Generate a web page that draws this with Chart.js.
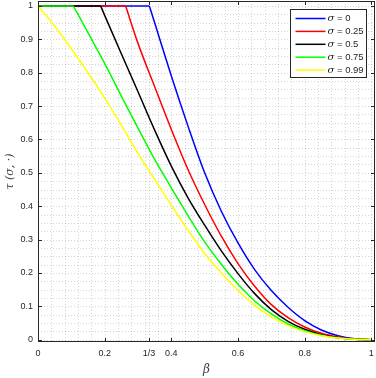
<!DOCTYPE html>
<html><head><meta charset="utf-8">
<script src="https://cdn.jsdelivr.net/npm/chart.js@4.4.0/dist/chart.umd.min.js"></script>
<style>html,body{margin:0;padding:0;background:#fff;overflow:hidden}#wrap{width:376px;height:378px}</style>
</head><body><div id="wrap"><canvas id="c" width="376" height="378"></canvas></div>
<script>
// ---- data ----
const sigmaValues = ['0', '0.25', '0.5', '0.75', '0.99'];

const betaS0 = [0, 0.334, 0.35, 0.4, 0.45, 0.5, 0.55, 0.6, 0.65, 0.7, 0.75, 0.8, 0.85, 0.9, 0.95, 1];
const tauS0  = [1, 1, 0.95, 0.79, 0.64, 0.50, 0.385, 0.29, 0.21, 0.147, 0.097, 0.057, 0.029, 0.012, 0.003, 0];

const betaS25 = [0, 0.263, 0.3, 0.35, 0.4, 0.45, 0.5, 0.55, 0.6, 0.65, 0.7, 0.75, 0.8, 0.85, 0.9, 0.95, 1];
const tauS25  = [1, 1, 0.888, 0.758, 0.63, 0.51, 0.405, 0.31, 0.228, 0.16, 0.105, 0.066, 0.038, 0.019, 0.008, 0.002, 0];

const betaS50 = [0, 0.188, 0.2, 0.25, 0.3, 0.35, 0.4, 0.45, 0.5, 0.55, 0.6, 0.65, 0.7, 0.75, 0.8, 0.85, 0.9, 0.95, 1];
const tauS50  = [1, 1, 0.972, 0.857, 0.743, 0.628, 0.52, 0.425, 0.343, 0.266, 0.198, 0.138, 0.09, 0.055, 0.031, 0.015, 0.006, 0.0015, 0];

const betaS75 = [0, 0.106, 0.15, 0.2, 0.25, 0.3, 0.35, 0.4, 0.45, 0.5, 0.55, 0.6, 0.65, 0.7, 0.75, 0.8, 0.85, 0.9, 0.95, 1];
const tauS75  = [1, 1, 0.92, 0.828, 0.73, 0.634, 0.54, 0.455, 0.372, 0.293, 0.226, 0.166, 0.116, 0.077, 0.047, 0.027, 0.013, 0.005, 0.0012, 0];

const betaS99 = [0, 0.05, 0.1, 0.15, 0.2, 0.25, 0.3, 0.35, 0.4, 0.45, 0.5, 0.55, 0.6, 0.65, 0.7, 0.75, 0.8, 0.85, 0.9, 0.95, 1];
const tauS99  = [1, 0.94, 0.872, 0.8, 0.724, 0.643, 0.558, 0.48, 0.403, 0.328, 0.258, 0.2, 0.148, 0.103, 0.068, 0.042, 0.024, 0.012, 0.005, 0.001, 0];

const xTickValues = [0, 0.2, 1/3, 0.4, 0.6, 0.8, 1];
const xTickLabels = ['0', '0.2', '1/3', '0.4', '0.6', '0.8', '1'];
const yTickValues = [0, 0.1, 0.2, 0.3, 0.4, 0.5, 0.6, 0.7, 0.8, 0.9, 1];
const yTickLabels = ['0', '0.1', '0.2', '0.3', '0.4', '0.5', '0.6', '0.7', '0.8', '0.9', '1'];
const xLimits = [0, 1.011];
const yLimits = [-0.007, 1.015];

const xTitle = 'β';
const yTitle = 'τ (σ, ·)';

// ---- styles ----
const lineColors = ['#0000ff', '#ff0000', '#000000', '#00ff00', '#ffff00'];
const AXIS = '#262626';

const seriesX = [betaS0, betaS25, betaS50, betaS75, betaS99];
const seriesY = [tauS0, tauS25, tauS50, tauS75, tauS99];

// each curve: a straight plateau part (tau = 1) and a smooth decreasing part
const datasets = [];
sigmaValues.forEach((s, i) => {
  const xs = seriesX[i], ys = seriesY[i];
  let k = 0;
  while (k + 1 < ys.length && ys[k + 1] === 1) k++;
  const common = {
    label: 'σ = ' + s,
    borderColor: lineColors[i],
    backgroundColor: lineColors[i],
    borderWidth: 1.5,
    showLine: true,
    pointRadius: 0,
    fill: false,
    order: 5 - i
  };
  if (k > 0) {
    datasets.push(Object.assign({}, common, {
      data: xs.slice(0, k + 1).map((x, j) => ({x: x, y: ys[j]})),
      tension: 0
    }));
  }
  datasets.push(Object.assign({}, common, {
    data: xs.slice(k).map((x, j) => ({x: x, y: ys[k + j]})),
    cubicInterpolationMode: 'monotone'
  }));
});

const gridPlugin = {
  id: 'matlabGrid',
  beforeDatasetsDraw(chart) {
    const {ctx, chartArea: a, scales: {x, y}} = chart;
    ctx.save();
    ctx.strokeStyle = 'rgba(0,0,0,0.17)';
    ctx.lineWidth = 1;
    ctx.setLineDash([1, 2]);
    const xs = [];
    for (let k = 1; k <= 25; k++) xs.push(k * 0.04);
    xs.push(1/3);
    xs.forEach(v => {
      const p = Math.round(x.getPixelForValue(v)) + 0.5;
      ctx.beginPath(); ctx.moveTo(p, a.top); ctx.lineTo(p, a.bottom); ctx.stroke();
    });
    for (let k = 0; k <= 40; k++) {
      const p = Math.round(y.getPixelForValue(k * 0.025)) + 0.5;
      ctx.beginPath(); ctx.moveTo(a.left, p); ctx.lineTo(a.right, p); ctx.stroke();
    }
    ctx.restore();
  },
  afterDatasetsDraw(chart) {
    const {ctx, chartArea: a, scales: {x, y}} = chart;
    ctx.save();
    ctx.strokeStyle = AXIS;
    ctx.lineWidth = 1;
    ctx.setLineDash([]);
    const L = a.left + 0.5, R = a.right - 0.5, T = a.top + 0.5, B = a.bottom - 0.5;
    ctx.strokeRect(L, T, R - L, B - T);
    const tl = 3.5;
    ctx.beginPath();
    xTickValues.forEach(v => {
      const p = Math.round(x.getPixelForValue(v)) + 0.5;
      ctx.moveTo(p, B); ctx.lineTo(p, B - tl);
      ctx.moveTo(p, T); ctx.lineTo(p, T + tl);
    });
    yTickValues.forEach(v => {
      const p = Math.round(y.getPixelForValue(v)) + 0.5;
      ctx.moveTo(L, p); ctx.lineTo(L + tl, p);
      ctx.moveTo(R, p); ctx.lineTo(R - tl, p);
    });
    ctx.stroke();

    // legend box
    const w = 76, h = 68;
    const x0 = Math.round(a.right - 85) + 0.5, y0 = Math.round(a.top + 8) + 0.5;
    ctx.fillStyle = '#ffffff';
    ctx.fillRect(x0, y0, w, h);
    ctx.strokeStyle = AXIS;
    ctx.strokeRect(x0, y0, w, h);
    sigmaValues.forEach((s, i) => {
      const yy = y0 + 9 + i * 12.9;
      ctx.strokeStyle = lineColors[i];
      ctx.lineWidth = 1.5;
      ctx.beginPath(); ctx.moveTo(x0 + 5, yy); ctx.lineTo(x0 + 35, yy); ctx.stroke();
      ctx.fillStyle = AXIS;
      ctx.textBaseline = 'middle';
      ctx.textAlign = 'left';
      ctx.font = 'italic 10px "DejaVu Serif"';
      ctx.fillText('σ', x0 + 37, yy);
      const sw = ctx.measureText('σ').width;
      ctx.font = '9.5px "Liberation Sans"';
      ctx.fillText(' = ' + s, x0 + 37 + sw, yy);
    });
    ctx.restore();
  }
};

new Chart(document.getElementById('c'), {
  type: 'scatter',
  data: {datasets: datasets},
  options: {
    responsive: false,
    animation: false,
    events: [],
    layout: {padding: {left: 0, right: 1, top: 1, bottom: 0}},
    plugins: {legend: {display: false}, tooltip: {enabled: false}},
    scales: {
      x: {
        type: 'linear', min: xLimits[0], max: xLimits[1],
        grid: {display: false, drawTicks: false},
        border: {display: false},
        afterBuildTicks: s => { s.ticks = xTickValues.map(v => ({value: v})); },
        afterFit: s => { s.height = 36; s.paddingLeft = 0; s.paddingRight = 0; },
        ticks: {
          autoSkip: false, maxRotation: 0, padding: 6,
          color: AXIS, font: {family: 'Liberation Sans', size: 9},
          callback: (v, i) => xTickLabels[i]
        },
        title: {display: true, text: xTitle, color: '#404040',
          font: {family: 'DejaVu Serif', size: 12, style: 'italic'}, padding: {top: 0, bottom: 1}}
      },
      y: {
        type: 'linear', min: yLimits[0], max: yLimits[1],
        grid: {display: false, drawTicks: false},
        border: {display: false},
        afterBuildTicks: s => { s.ticks = yTickValues.map(v => ({value: v})); },
        afterFit: s => { s.width = 38; s.paddingTop = 0; s.paddingBottom = 0; },
        ticks: {
          autoSkip: false, padding: 5,
          color: AXIS, font: {family: 'Liberation Sans', size: 9},
          callback: (v, i) => yTickLabels[i]
        },
        title: {display: true, text: yTitle, color: '#404040',
          font: {family: 'DejaVu Serif', size: 11, style: 'italic'}, padding: {top: 4, bottom: 0}}
      }
    }
  },
  plugins: [gridPlugin]
});
</script>
</body></html>
